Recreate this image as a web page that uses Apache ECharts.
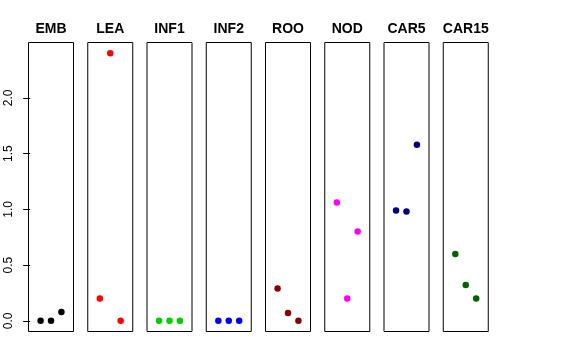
<!DOCTYPE html>
<html>
<head>
<meta charset="utf-8">
<script src="https://cdn.jsdelivr.net/npm/echarts@6/dist/echarts.min.js"></script>
<style>html,body{margin:0;padding:0;background:#fff;}#c{width:576px;height:360px;}</style>
</head>
<body>
<div id="c"></div>
<script>
const categories = ['EMB', 'LEA', 'INF1', 'INF2', 'ROO', 'NOD', 'CAR5', 'CAR15'];
const xPositions = [1, 2, 3];
const valEMB = [0, 0, 0.08];
const valLEA = [0.2, 2.4, 0];
const valINF1 = [0, 0, 0];
const valINF2 = [0, 0, 0];
const valROO = [0.29, 0.07, 0];
const valNOD = [1.06, 0.2, 0.8];
const valCAR5 = [0.99, 0.98, 1.58];
const valCAR15 = [0.6, 0.32, 0.2];
const yTicks = [0, 0.5, 1, 1.5, 2];
const yTickLabels = ['0.0', '0.5', '1.0', '1.5', '2.0'];
const colors = ['#000000', '#FF0000', '#00CD00', '#0000FF', '#8B0000', '#FF00FF', '#000080', '#006400'];

const allValues = [valEMB, valLEA, valINF1, valINF2, valROO, valNOD, valCAR5, valCAR15];
const yMin = -0.096, yMax = 2.496;
const font = 'Liberation Sans, Arial, Helvetica, sans-serif';

const grids = [], xAxes = [], yAxes = [], series = [], titles = [];
categories.forEach((name, i) => {
  const left = 28.5 + i * 59.25;
  const width = 45;
  grids.push({ left: left, top: 42.5, width: width, height: 289, show: true, borderColor: '#000', borderWidth: 1, backgroundColor: 'transparent' });
  xAxes.push({ type: 'value', gridIndex: i, min: -0.16, max: 4.16, show: false });
  const isFirst = i === 0;
  yAxes.push({
    type: 'value', gridIndex: i, min: yMin, max: yMax, show: isFirst,
    splitLine: { show: false },
    axisLine: { show: false },
    axisTick: { show: isFirst, customValues: yTicks, length: 7, lineStyle: { color: '#000', width: 1 } },
    axisLabel: {
      show: isFirst, customValues: yTicks, rotate: 90, margin: 14,
      fontSize: 12, color: '#000', fontFamily: font,
      formatter: v => { const k = yTicks.findIndex(t => Math.abs(t - v) < 1e-9); return k >= 0 ? yTickLabels[k] : ''; }
    }
  });
  series.push({
    type: 'scatter', xAxisIndex: i, yAxisIndex: i,
    data: allValues[i].map((v, j) => [xPositions[j], v]),
    symbolSize: 6.5,
    itemStyle: { color: colors[i], opacity: 1 },
    emphasis: { disabled: true },
    clip: false
  });
  titles.push({
    text: name, left: left + width / 2, top: 22, textAlign: 'center', padding: 0,
    textStyle: { fontSize: 14, fontWeight: 'bold', color: '#000', fontFamily: font }
  });
});

const chart = echarts.init(document.getElementById('c'), null, { renderer: 'canvas' });
chart.setOption({
  animation: false,
  backgroundColor: '#fff',
  title: titles,
  grid: grids,
  xAxis: xAxes,
  yAxis: yAxes,
  series: series
});
</script>
</body>
</html>
